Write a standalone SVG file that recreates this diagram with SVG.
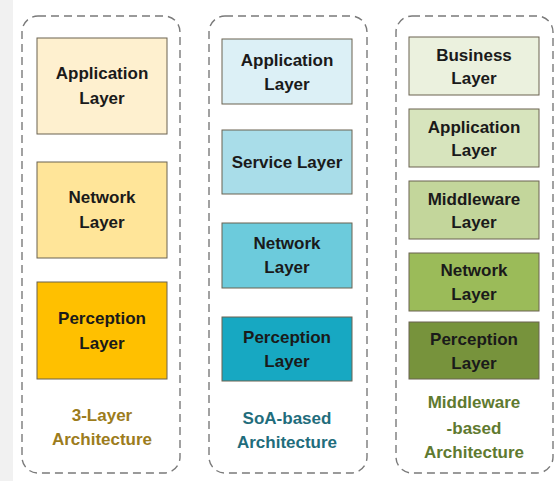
<svg xmlns="http://www.w3.org/2000/svg" width="557" height="481" viewBox="0 0 557 481">
  <style>
    .frame { fill: #ffffff; stroke: #7a7a7a; stroke-width: 1.4; stroke-dasharray: 8 5; }
    .box { stroke: #6b6350; stroke-width: 1; }
    .t { font-family: "Liberation Sans", Arial, sans-serif; font-weight: bold; font-size: 17px; text-anchor: middle; fill: #1a1a1a; }
    .cap { font-family: "Liberation Sans", Arial, sans-serif; font-weight: bold; font-size: 17px; text-anchor: middle; }
  </style>
  <rect x="0" y="0" width="557" height="481" fill="#ffffff"/>
  <rect x="0" y="0" width="13" height="481" fill="#f1f1f1"/>

  <!-- 3-layer column -->
  <g id="col-3layer">
    <rect class="frame" x="22" y="16" width="158" height="457" rx="16"/>
    <g id="l3-application">
      <rect class="box" x="37" y="38" width="130" height="96" fill="#fef0cf"/>
      <text class="t" x="102" y="79">Application</text>
      <text class="t" x="102" y="104">Layer</text>
    </g>
    <g id="l3-network">
      <rect class="box" x="37" y="162" width="130" height="96" fill="#ffe599"/>
      <text class="t" x="102" y="203">Network</text>
      <text class="t" x="102" y="228">Layer</text>
    </g>
    <g id="l3-perception">
      <rect class="box" x="37" y="282" width="130" height="97" fill="#ffc000"/>
      <text class="t" x="102" y="324">Perception</text>
      <text class="t" x="102" y="349">Layer</text>
    </g>
    <text class="cap" x="102" y="421" fill="#9c7c1c">3-Layer</text>
    <text class="cap" x="102" y="445" fill="#9c7c1c">Architecture</text>
  </g>

  <!-- SoA-based column -->
  <g id="col-soa">
    <rect class="frame" x="209" y="16" width="158" height="457" rx="16"/>
    <g id="soa-application">
      <rect class="box" x="222" y="39" width="130" height="65" fill="#dcf0f6"/>
      <text class="t" x="287" y="66">Application</text>
      <text class="t" x="287" y="90">Layer</text>
    </g>
    <g id="soa-service">
      <rect class="box" x="222" y="130" width="130" height="64" fill="#a9dde9"/>
      <text class="t" x="287" y="168">Service Layer</text>
    </g>
    <g id="soa-network">
      <rect class="box" x="222" y="223" width="130" height="65" fill="#6ccbdc"/>
      <text class="t" x="287" y="249">Network</text>
      <text class="t" x="287" y="273">Layer</text>
    </g>
    <g id="soa-perception">
      <rect class="box" x="222" y="317" width="130" height="64" fill="#17a8c2"/>
      <text class="t" x="287" y="343">Perception</text>
      <text class="t" x="287" y="367">Layer</text>
    </g>
    <text class="cap" x="287" y="424" fill="#1f6d7c">SoA-based</text>
    <text class="cap" x="287" y="448" fill="#1f6d7c">Architecture</text>
  </g>

  <!-- Middleware-based column -->
  <g id="col-middleware">
    <rect class="frame" x="396" y="16" width="157" height="457" rx="16"/>
    <g id="mw-business">
      <rect class="box" x="409" y="37" width="130" height="58" fill="#ebf1de"/>
      <text class="t" x="474" y="61">Business</text>
      <text class="t" x="474" y="84">Layer</text>
    </g>
    <g id="mw-application">
      <rect class="box" x="409" y="109" width="130" height="58" fill="#d7e4bd"/>
      <text class="t" x="474" y="133">Application</text>
      <text class="t" x="474" y="156">Layer</text>
    </g>
    <g id="mw-middleware">
      <rect class="box" x="409" y="181" width="130" height="58" fill="#c3d69b"/>
      <text class="t" x="474" y="205">Middleware</text>
      <text class="t" x="474" y="228">Layer</text>
    </g>
    <g id="mw-network">
      <rect class="box" x="409" y="253" width="130" height="58" fill="#9bbb59"/>
      <text class="t" x="474" y="276">Network</text>
      <text class="t" x="474" y="300">Layer</text>
    </g>
    <g id="mw-perception">
      <rect class="box" x="409" y="322" width="130" height="57" fill="#77933c"/>
      <text class="t" x="474" y="345">Perception</text>
      <text class="t" x="474" y="369">Layer</text>
    </g>
    <text class="cap" x="474" y="408" fill="#5f7a30">Middleware</text>
    <text class="cap" x="474" y="434" fill="#5f7a30">-based</text>
    <text class="cap" x="474" y="458" fill="#5f7a30">Architecture</text>
  </g>

  <g id="connectors"/>
</svg>
